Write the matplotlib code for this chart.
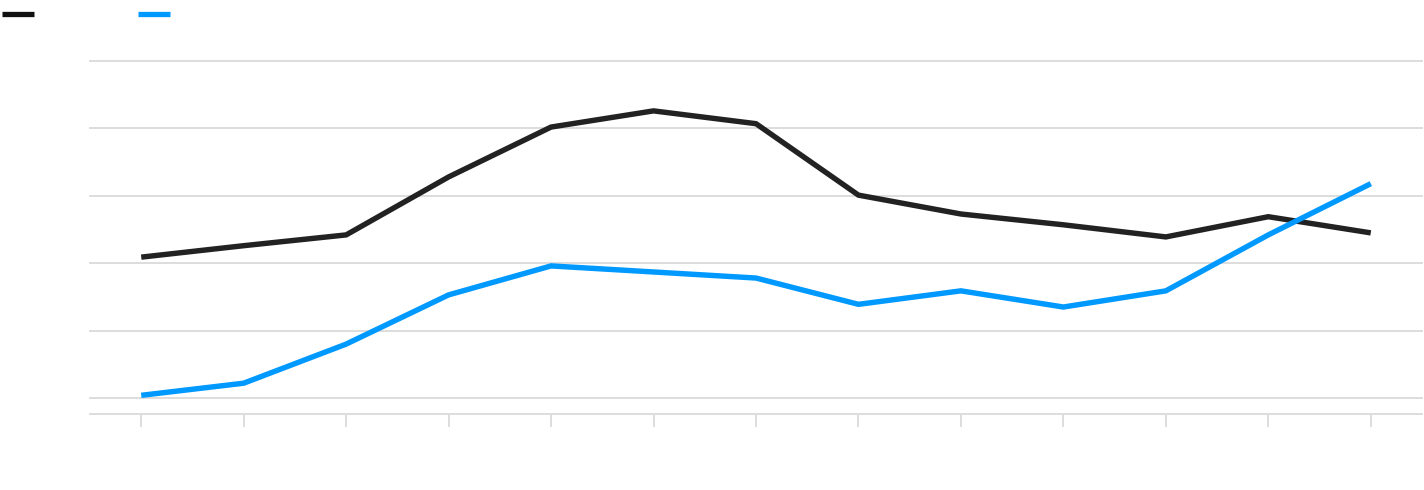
import matplotlib
matplotlib.use("Agg")
import matplotlib.pyplot as plt
from matplotlib.lines import Line2D

# values (no labels shown in the original)
periods = list(range(13))
series_black = [2.09, 2.26, 2.42, 3.28, 4.02, 4.26, 4.07, 3.01, 2.73, 2.57, 2.39, 2.69, 2.45]
series_blue = [0.04, 0.22, 0.80, 1.53, 1.96, 1.87, 1.78, 1.39, 1.59, 1.35, 1.59, 2.42, 3.18]
grid_levels = [0, 1, 2, 3, 4, 5]

black = "#222222"
blue = "#0099ff"
grid = "#dddddd"

fig = plt.figure(figsize=(14.24, 4.9), dpi=100)
ax = fig.add_axes([90 / 1424, 76 / 490, (1422 - 90) / 1424, (414 - 61) / 490])

for g in grid_levels:
    ax.axhline(g, color=grid, lw=1.4, zorder=0, clip_on=False)

ax.plot(periods, series_black, color=black, lw=3.9, solid_capstyle="butt",
        solid_joinstyle="miter", zorder=3)
ax.plot(periods, series_blue, color=blue, lw=3.9, solid_capstyle="butt",
        solid_joinstyle="miter", zorder=3)

ax.set_xlim(-0.5, 12.5)
ax.set_ylim(-0.237, 5.0)

for s in ["top", "right", "left"]:
    ax.spines[s].set_visible(False)
ax.spines["bottom"].set_color(grid)
ax.spines["bottom"].set_linewidth(1.4)

ax.set_xticks(periods)
ax.set_xticklabels([])
ax.set_yticks([])
ax.tick_params(axis="x", length=9.5, width=1.4, color=grid)

# legend swatches, top left
fig.add_artist(Line2D([2 / 1424, 34 / 1424], [1 - 14 / 490] * 2, color="#111111", lw=3.8,
                      solid_capstyle="butt", transform=fig.transFigure))
fig.add_artist(Line2D([138 / 1424, 170 / 1424], [1 - 14 / 490] * 2, color=blue, lw=3.8,
                      solid_capstyle="butt", transform=fig.transFigure))

fig.savefig("out.png", dpi=100, facecolor="white")
